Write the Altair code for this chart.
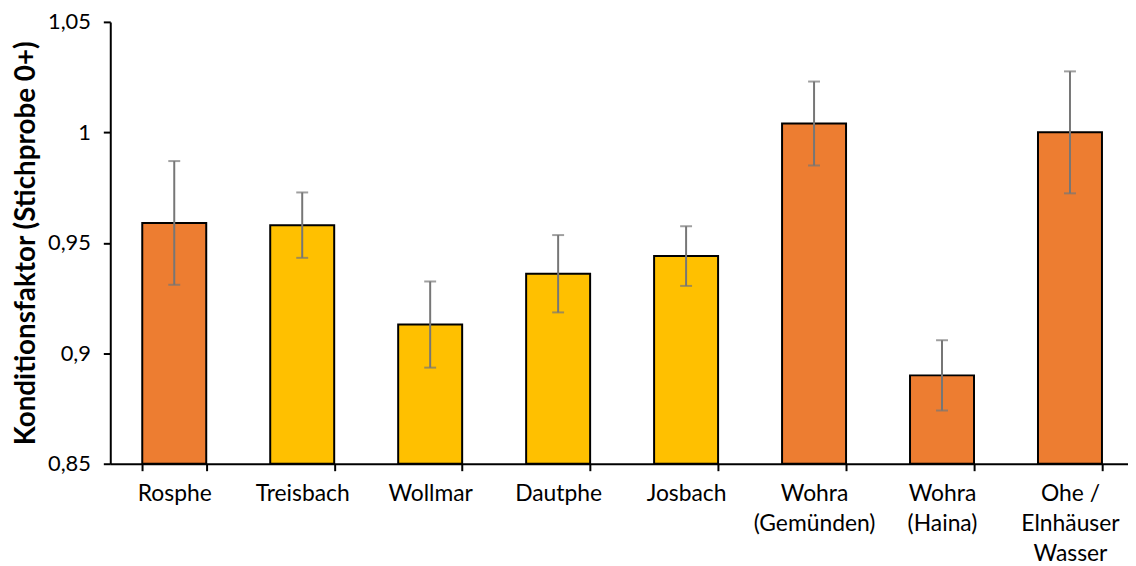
import altair as alt
import pandas as pd

categories = ["Rosphe", "Treisbach", "Wollmar", "Dautphe", "Josbach",
              "Wohra|(Gemünden)", "Wohra|(Haina)", "Ohe /|Elnhäuser|Wasser"]
values = [0.959, 0.958, 0.913, 0.936, 0.944, 1.004, 0.890, 1.000]
errors = [0.028, 0.0148, 0.0195, 0.0175, 0.0135, 0.019, 0.0159, 0.0276]
groups = ["A", "B", "B", "B", "B", "A", "A", "A"]
y_ticks = [0.85, 0.9, 0.95, 1.0, 1.05]

df = pd.DataFrame({"cat": categories, "val": values, "err": errors, "grp": groups})
df["lo"] = df["val"] - df["err"]
df["hi"] = df["val"] + df["err"]

FONT = "Lato"

xscale = alt.Scale(range=[0, 1031], paddingInner=0.5, paddingOuter=0.25)
yscale = alt.Scale(domain=[0.85, 1.05], nice=False, zero=False)

xaxis = alt.Axis(title=None, labelAngle=0, labelExpr="split(datum.label, '|')",
                 labelFontSize=23, labelLineHeight=30, labelPadding=12,
                 tickBand="extent", labelBaseline="top")
yaxis = alt.Axis(title="Konditionsfaktor (Stichprobe 0+)", values=y_ticks,
                 labelExpr="replace(format(datum.value, '.2~f'), '.', ',')",
                 labelFontSize=22, labelPadding=13, titlePadding=7)

x = alt.X("cat:N", sort=categories, scale=xscale, axis=xaxis)

base = alt.Chart(df)
bars = base.mark_bar(stroke="#000000", strokeWidth=2).encode(
    x=x,
    y=alt.Y("val:Q", scale=yscale, axis=yaxis),
    y2=alt.datum(0.85),
    color=alt.Color("grp:N", scale=alt.Scale(domain=["A", "B"], range=["#ED7D31", "#FFC000"]),
                    legend=None),
)
rules = base.mark_rule(color="#767676", strokeWidth=2).encode(
    x=x, y=alt.Y("lo:Q", scale=yscale, axis=yaxis), y2="hi:Q")
cap_hi = base.mark_tick(color="#767676", thickness=2, size=12).encode(
    x=x, y=alt.Y("hi:Q", scale=yscale, axis=yaxis))
cap_lo = base.mark_tick(color="#767676", thickness=2, size=12).encode(
    x=x, y=alt.Y("lo:Q", scale=yscale, axis=yaxis))

chart = alt.layer(bars, rules, cap_hi, cap_lo).properties(
    width=1025, height=445,
    background="#ffffff",
    autosize=alt.AutoSizeParams(type="none"),
    padding={"left": 103, "top": 12, "right": 0, "bottom": 101},
).configure_view(stroke="transparent").configure_axis(
    grid=False, labelFont=FONT, labelColor="#000000",
    tickSize=7, tickColor="#000000", tickWidth=2,
    domainColor="#000000", domainWidth=2,
    titleFont=FONT, titleFontSize=28, titleFontWeight="bold", titleColor="#000000",
)

chart.save("out.html", embed_options={"renderer": "svg", "actions": False})
